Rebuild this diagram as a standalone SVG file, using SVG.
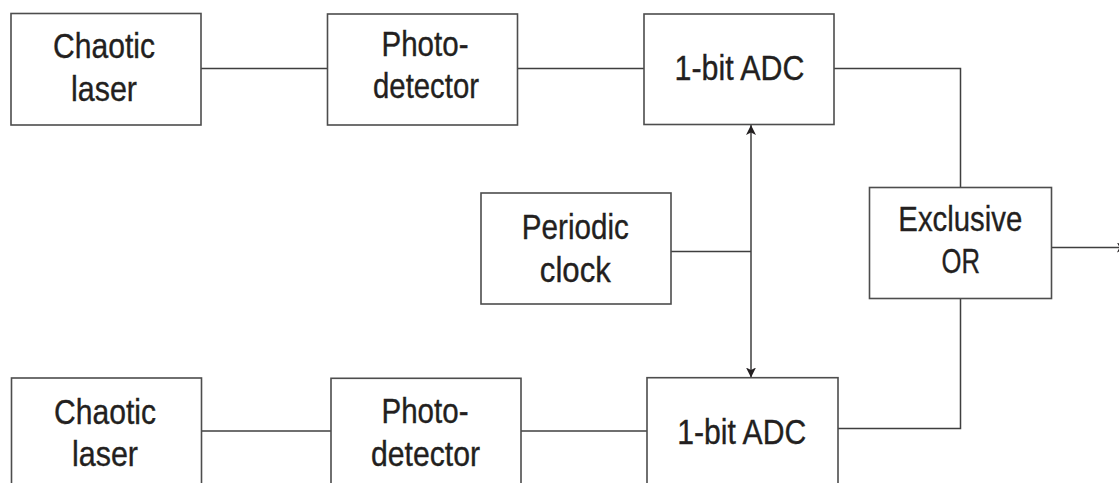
<svg xmlns="http://www.w3.org/2000/svg" width="1119" height="483" viewBox="0 0 1119 483">
<style>
.box{fill:#fff;stroke:#4d4d4d;stroke-width:1.6}
.ln{fill:none;stroke:#3f3f3f;stroke-width:1.5}
.t{font-family:"Liberation Sans",Arial,sans-serif;font-size:35px;fill:#231f20;stroke:#231f20;stroke-width:0.35;text-anchor:middle}
</style>
<defs>
<marker id="ah" viewBox="0 0 10 10" refX="10" refY="5" markerWidth="10" markerHeight="10" markerUnits="userSpaceOnUse" orient="auto-start-reverse">
<path d="M0,0 L10,5 L0,10 L2.5,5 Z" fill="#231f20"/>
</marker>
</defs>
<rect width="1119" height="483" fill="#fff"/>
<g id="connectors">
<line class="ln" x1="201" y1="68.5" x2="327.5" y2="68.5"/>
<line class="ln" x1="517.5" y1="68.5" x2="644" y2="68.5"/>
<polyline class="ln" points="834,68.5 960.5,68.5 960.5,187.5"/>
<polyline class="ln" points="960.5,298.5 960.5,428.5 834,428.5"/>
<line class="ln" x1="1051.5" y1="247.5" x2="1127" y2="247.5" marker-end="url(#ah)"/>
<line class="ln" x1="671" y1="251.5" x2="751" y2="251.5"/>
<line class="ln" x1="751" y1="125" x2="751" y2="377.5" marker-start="url(#ah)" marker-end="url(#ah)"/>
<line class="ln" x1="201.5" y1="431" x2="331" y2="431"/>
<line class="ln" x1="521" y1="431" x2="647" y2="431"/>
</g>
<g id="laser1">
<rect class="box" x="11" y="13.5" width="190" height="111.5"/>
<text class="t" x="104" y="58.3" textLength="102" lengthAdjust="spacingAndGlyphs">Chaotic</text>
<text class="t" x="104" y="100.7" textLength="66" lengthAdjust="spacingAndGlyphs">laser</text>
</g>
<g id="photo1">
<rect class="box" x="327.5" y="14" width="190" height="111"/>
<text class="t" x="425" y="56" textLength="87" lengthAdjust="spacingAndGlyphs">Photo-</text>
<text class="t" x="426" y="97.7" textLength="106" lengthAdjust="spacingAndGlyphs">detector</text>
</g>
<g id="adc1">
<rect class="box" x="644" y="14" width="190" height="110.5"/>
<text class="t" x="739.5" y="80" textLength="130" lengthAdjust="spacingAndGlyphs">1-bit ADC</text>
</g>
<g id="clock">
<rect class="box" x="481" y="193" width="190" height="111"/>
<text class="t" x="575.3" y="239" textLength="107" lengthAdjust="spacingAndGlyphs">Periodic</text>
<text class="t" x="575.3" y="281.7" textLength="71" lengthAdjust="spacingAndGlyphs">clock</text>
</g>
<g id="xor">
<rect class="box" x="869.5" y="187.5" width="182" height="111"/>
<text class="t" x="960.3" y="230.7" textLength="124" lengthAdjust="spacingAndGlyphs">Exclusive</text>
<text class="t" x="960.8" y="273.3" textLength="38.5" lengthAdjust="spacingAndGlyphs">OR</text>
</g>
<g id="laser2">
<rect class="box" x="11.5" y="378" width="190" height="120"/>
<text class="t" x="105" y="424" textLength="102" lengthAdjust="spacingAndGlyphs">Chaotic</text>
<text class="t" x="105" y="466" textLength="66" lengthAdjust="spacingAndGlyphs">laser</text>
</g>
<g id="photo2">
<rect class="box" x="331" y="378.3" width="190" height="120"/>
<text class="t" x="425" y="423.3" textLength="87" lengthAdjust="spacingAndGlyphs">Photo-</text>
<text class="t" x="425.5" y="466" textLength="109" lengthAdjust="spacingAndGlyphs">detector</text>
</g>
<g id="adc2">
<rect class="box" x="647" y="377.7" width="191" height="120"/>
<text class="t" x="741.7" y="444" textLength="129" lengthAdjust="spacingAndGlyphs">1-bit ADC</text>
</g>
</svg>
